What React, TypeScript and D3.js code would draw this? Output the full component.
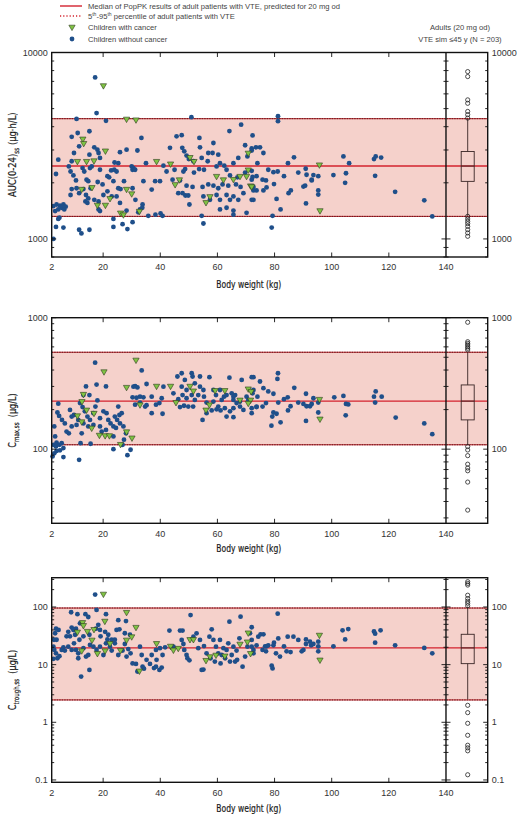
import React from 'react';
import * as d3 from 'd3';

type Pt = [number, number];

// body weight axis (kg); box plot for adults sits right of the 140 kg line
const xTicks = [2, 20, 40, 60, 80, 100, 120, 140];
const xSplit = 140;
const boxKg = 147.6;

// adult reference band: [p5, median, p95]
const aucRef = [1321, 2460, 4416];
const cmaxRef = [108, 232, 546];
const ctroughRef = [2.44, 19.5, 96];

// adult box plot: [low whisker, q1, median, q3, high whisker]
const aucBox = [1330, 2036, 2460, 2944, 4400];
const cmaxBox = [108, 167, 232, 308, 540];
const ctroughBox = [2.5, 10.4, 19.5, 33.6, 102];

const aucOutliers = [7900, 7430, 5570, 5340, 4830, 4640, 4450, 1322, 1280, 1243, 1208, 1168, 1121, 1077, 1033];
const cmaxOutliers = [923, 657, 638, 620, 602, 585, 568, 104.7, 98.6, 89.3, 76.9, 71.9, 68.5, 56.2, 34.4];
const ctroughOutliers = [275, 256, 240, 160, 140, 126, 116, 105, 1.97, 1.47, 0.96, 0.595, 0.4, 0.36, 0.32, 0.123];

// AUC(0-24)ss, children without / with cancer: [kg, value]
const aucNoCancer: Pt[] = [
  [17.2, 7350], [17.7, 4730], [10.7, 4400], [21, 4300], [50.9, 4500], [81.2, 4550], [81.2, 4280],
  [9, 3530], [11.1, 3700], [15.2, 3780], [33.4, 3480], [45.7, 3550], [47.5, 3600], [64.2, 3790], [53.7, 3480], [68.3, 4100],
  [11.6, 3140], [16.9, 3100], [18, 3010], [25.9, 2920], [28.2, 3010], [32, 2980], [43.4, 3080], [47.7, 3080], [48.4, 2950],
  [53.9, 3100], [58.6, 3270], [56.8, 2890], [58.3, 2890], [69.7, 3180], [73.5, 3100], [9.8, 2890], [9, 2610], [8, 2450],
  [16, 2450], [18.4, 2890], [18.9, 2720], [15.2, 2830], [24, 2570], [25.3, 2550], [30, 2450], [30.6, 2400], [35, 2550],
  [41.1, 2470], [49.2, 2800], [50, 2680], [51.6, 2610], [54.5, 2720], [56.6, 2610], [60.3, 2830], [60.9, 2550], [65.6, 2550],
  [67.3, 2720], [70.5, 2770], [4.3, 2660], [8.6, 2300], [9.6, 2190], [3.5, 2230], [12.8, 2400], [13.4, 2300], [15.4, 2400],
  [18.9, 2350], [22.8, 2330], [23.9, 2350], [24.7, 2300], [30.3, 2350], [31.2, 2350], [42.2, 2300], [45, 2350], [48.1, 2300],
  [48.7, 2370], [51.8, 2270], [53.6, 2370], [55.3, 2350], [59.7, 2450], [62.4, 2470], [63.2, 2350], [64.4, 2190], [67, 2140],
  [69.7, 2270], [72.3, 2150], [73.7, 2170], [10.5, 2060], [14.2, 2080], [14.8, 2040], [15.6, 1870], [13.1, 1850], [10.7, 1870],
  [9, 1850], [18.1, 2020], [19.8, 1960], [21.5, 2170], [22.1, 2140], [23.6, 2040], [25.3, 1870], [26.1, 1850], [27.3, 2040],
  [30.3, 1870], [34.1, 2040], [37, 1840], [38.2, 2040], [39.9, 2040], [44.3, 2080], [46.9, 2060], [49.2, 1930], [51.3, 1900],
  [54.8, 1900], [56.8, 1960], [58.6, 1930], [60.3, 1870], [61.8, 1960], [63.8, 1930], [66.5, 1960], [68.1, 1900], [72.6, 1900],
  [8.6, 1720], [11.6, 1760], [14, 1720], [14.8, 1650], [16.9, 1620], [18.4, 1590], [20.1, 1720], [21.5, 1800], [23, 1690],
  [24.7, 1690], [25.9, 1560], [31.3, 1620], [33.8, 1530], [46.3, 1760], [47.8, 1760], [48.8, 1710], [49.8, 1710], [50.2, 1530],
  [55.1, 1690], [57.4, 1620], [59.7, 1720], [60.9, 1620], [63.2, 1720], [64.4, 1620], [65.6, 1690], [67.3, 1620], [69.1, 1760],
  [72.6, 1620], [2.6, 1500], [3.7, 1530], [4.9, 1510], [6.1, 1530], [6.9, 1490], [3.2, 1410], [4.3, 1440], [5.5, 1470],
  [6.4, 1440], [18.4, 1440], [18.9, 1410], [13.8, 1590], [14.5, 1560], [32.9, 1440], [33.7, 1470], [28.2, 1420], [32.3, 1390],
  [35.8, 1330], [38.3, 1350], [40.1, 1370], [40.8, 1330], [54.5, 1330], [60.9, 1440], [63.2, 1470], [65.6, 1420], [65.6, 1350],
  [70.2, 1380], [4.7, 1300], [4.3, 1280], [3.5, 1160], [6.1, 1150], [11.6, 1120], [12.4, 1070], [15.2, 1120], [23.6, 1280],
  [23.6, 1160], [26.8, 1200], [28.5, 1130], [30.3, 1230], [55.1, 1210], [2.6, 1000],
  [72.3, 3590], [72, 3060], [72, 2980], [76.1, 2890], [74.9, 3100], [74, 2550], [72, 2320], [72, 2080], [75.8, 2080],
  [77, 2060], [77.8, 2350], [79.6, 2280], [81.1, 2300], [79.8, 1970], [76.1, 1820], [77.2, 1890], [73.7, 1820], [72.6, 1820],
  [72, 1620], [80.7, 1640], [82.1, 1440], [79.3, 1330], [79, 1150], [83.3, 2170], [84.7, 2550], [84.9, 1760], [85.7, 1820],
  [86.8, 2740], [88.3, 2270], [90.1, 1910], [90.7, 1930], [90.9, 2380], [91.2, 2210], [91, 1550], [93, 2080], [93, 2060],
  [93.6, 2200], [95.3, 2170], [95.3, 1820], [95.3, 1730], [100.6, 2200], [104.1, 2770], [105, 2250], [104.7, 2000],
  [106.1, 2550], [114.8, 2680], [115.4, 2770], [117.3, 2730], [115.2, 2180], [122.2, 1790], [132.4, 1610], [135.2, 1320],
];
const aucCancer: Pt[] = [
  [20.1, 6650], [28.2, 4400], [31.5, 4360], [12.9, 3440], [13.2, 3260], [20.8, 2970], [70.8, 2890], [11, 2610], [14.2, 2610],
  [16.8, 2630], [38.7, 2610], [43.6, 2530], [50.4, 2740], [51.8, 2610], [70.8, 2350], [59.7, 2170], [62.1, 2080], [65.6, 2090],
  [67.9, 2170], [70.2, 2170], [12.5, 1850], [16.1, 1890], [28.2, 1850], [45.2, 1960], [46.7, 2080], [71.6, 1930], [22.4, 1650],
  [30, 1750], [18, 1520], [20.8, 1520], [56, 1570], [57.4, 1690], [26.1, 1380], [32.7, 1410], [27.1, 1350],
  [95.7, 2500], [72, 1910], [95.9, 1420],
];

// Cmax,ss
const cmaxNoCancer: Pt[] = [
  [17.2, 455], [17.7, 310], [21, 300], [33.5, 397], [14, 300], [13.1, 258], [15.2, 258], [8.4, 199], [9, 177], [9.8, 182],
  [11.9, 224], [12.8, 209], [11.3, 167], [10.7, 153], [9, 149], [8, 132], [7.2, 136], [6.6, 157], [5.6, 167], [4, 190],
  [4.3, 222], [4.6, 179], [2.9, 149], [3.2, 125], [3.7, 112], [2.6, 108], [3.5, 105], [4.7, 108], [5.5, 111], [6.1, 102],
  [4.9, 98], [2.9, 93], [6.1, 87], [11.6, 83], [2.3, 88], [3.7, 97], [13.6, 194], [14.5, 177], [15.4, 167], [16.6, 188],
  [17.3, 211], [18, 235], [18.9, 172], [20.1, 194], [21.2, 188], [16.6, 153], [14.8, 149], [13.1, 157], [12.5, 132], [12.1, 111],
  [15.6, 110], [18.9, 149], [19.5, 136], [21, 140], [21.8, 167], [22.6, 157], [24.1, 177], [24.9, 167], [25.7, 182], [23.6, 149],
  [24.5, 145], [25.9, 157], [27.1, 149], [23.6, 125], [23.6, 100], [26.8, 108], [27.3, 118], [28.5, 90], [29.6, 99], [28, 132],
  [26.5, 188], [25.3, 211], [30.6, 299], [31.2, 302], [32, 295], [30.3, 248], [31.7, 246], [32.9, 251], [34.1, 248], [34.7, 211],
  [35.2, 216], [31.2, 218], [32.9, 226], [35.2, 313], [37, 251], [38.5, 218], [39.7, 224], [40.5, 244], [40.8, 186], [37, 188],
  [41.1, 299], [44.6, 266], [46, 357], [47.5, 378], [48.6, 336], [49.2, 282], [51.3, 357], [51, 378], [52.1, 317], [53.9, 357],
  [53.9, 299], [47.5, 299], [47.8, 258], [49.2, 244], [51, 258], [52.1, 237], [46.3, 240], [46.9, 209], [48.3, 214], [49.8, 211],
  [51.5, 211], [53.3, 258], [55.1, 282], [55.3, 251], [56.2, 226], [57.2, 353], [58.6, 282], [59.5, 258], [60.9, 282], [61.5, 237],
  [62.3, 251], [63.2, 258], [64.2, 350], [65, 266], [65.6, 237], [66.2, 258], [67.9, 230], [68.5, 336], [70.2, 251], [72.6, 353],
  [60.3, 211], [61.1, 197], [62.6, 205], [64.4, 194], [65.6, 205], [66.7, 224], [69.1, 199], [70.8, 237], [54.8, 167], [58, 197],
  [56.2, 188], [59.7, 201], [63.2, 177], [65.6, 175], [67.9, 211], [73.7, 211], [72.6, 282], [58.6, 230], [65.6, 251],
  [72, 353], [72.3, 266], [72, 205], [72, 188], [73.7, 209], [74, 251], [74.9, 327], [76.1, 291], [75.8, 211], [77, 224],
  [77.8, 275], [79.6, 264], [81.2, 378], [81, 342], [81.3, 226], [79.2, 177], [79.6, 190], [78.9, 151], [80.7, 186], [82.1, 160],
  [83.3, 240], [84.6, 248], [84.7, 197], [85.6, 212], [86.9, 293], [88.3, 226], [90.1, 221], [91, 264], [91.2, 212], [91, 164],
  [92.4, 212], [93, 221], [93.6, 244], [95.3, 226], [95.3, 190], [100.9, 248], [104.1, 254], [105, 221], [105.8, 219],
  [104.9, 181], [115.4, 275], [115.2, 226], [114.8, 251], [117.5, 251], [122.4, 174], [132.4, 157], [135.2, 130],
];
const cmaxCancer: Pt[] = [
  [31.5, 477], [20.3, 389], [13.1, 262], [12.6, 231], [14.2, 199], [16.8, 188], [11, 180], [12.5, 162], [16, 145], [18.7, 128],
  [20.7, 127], [22.2, 127], [26.1, 109], [28.2, 136], [30.1, 122], [28.2, 296], [32.9, 218], [38.7, 302], [43.6, 302],
  [45.5, 227], [50.4, 302], [51.6, 278], [56, 199], [57.2, 218], [59.2, 280], [62.6, 280], [67.9, 237], [70.8, 288],
  [71.6, 237], [70.8, 224], [95.7, 240], [95.9, 170], [71.8, 275],
];

// Ctrough,ss
const ctroughNoCancer: Pt[] = [
  [17.2, 164], [17.7, 89], [8.8, 81], [11, 75], [13.8, 75], [21, 75], [28, 57], [14.8, 67], [11.9, 52], [10.5, 42], [9, 44],
  [7.8, 37], [7.2, 31], [8.4, 31], [9.6, 40], [10.2, 33], [11.7, 27], [13.1, 31], [15.2, 33], [17.5, 42], [18.3, 49], [18.9, 40],
  [19.1, 31], [20.7, 37], [21.8, 33], [23, 27], [24.1, 27], [24.7, 40], [25.7, 41], [25.3, 59], [27.6, 35], [29.4, 33],
  [3.5, 42], [4.4, 40], [3.2, 35], [2.8, 27], [3.7, 27], [2.6, 20.5], [2.9, 18], [3.5, 15.7], [4, 12.9], [2.6, 12.6], [4.7, 14],
  [5.5, 18], [6.1, 20], [6.6, 17.5], [7.8, 20.5], [9, 18], [9.8, 23.4], [10.5, 18], [11.3, 12.9], [11.3, 15.7], [12.3, 6.2],
  [13.1, 19.3], [14, 13.8], [14.8, 14.7], [15.2, 8.1], [15.4, 22], [16.6, 20.5], [17.7, 18], [18.9, 20.5], [20.1, 14.7],
  [21, 23.4], [21.5, 27.4], [22.4, 20.5], [23, 17.5], [24.1, 23.4], [25.3, 14.7], [26.8, 17.5], [27.6, 22.8], [28.2, 13.8],
  [28.8, 18.6], [29.6, 15.7], [30.3, 10.5], [31.5, 10.3], [32, 7.6], [32.9, 20.5], [33.5, 14.7], [33.8, 9.2], [34.3, 8.5],
  [35.2, 12.1], [36.4, 10.3], [37.8, 8.7], [38.5, 9.2], [39.7, 8.1], [40.5, 8.9], [40.8, 14.7], [38.7, 12.1], [37, 14.7],
  [38.5, 18], [39.9, 19.3], [41.7, 20], [43.2, 39], [44.6, 20.5], [46.9, 39], [47.8, 39], [47.5, 26.8], [48.1, 22.8], [48.4, 18],
  [49.2, 14.7], [49.5, 12.9], [50.2, 11.9], [50.6, 72.5], [51.6, 30.6], [52.7, 34.9], [53.3, 19.3], [53.9, 26.8], [54.5, 8.1],
  [55.1, 8.2], [55.3, 21], [56.2, 15.7], [57.2, 30.6], [58, 41], [58.6, 26.8], [59.5, 20.5], [60.3, 15.7], [60.9, 26.8],
  [61.5, 14.7], [62.1, 19.3], [62.7, 12.9], [63.2, 18], [63.8, 23.4], [64.2, 55.5], [65, 14.7], [65.6, 20.5], [66.2, 11.3],
  [66.7, 17.5], [67.7, 28.6], [68.1, 68], [68.8, 9.2], [69.7, 13.8], [70.5, 20.5], [71.4, 34.9], [72, 44.5], [72.6, 18],
  [57.6, 12.9], [59.1, 11.3], [61.1, 10.5], [64.4, 11.3], [66.9, 12.1],
  [72, 26.8], [72, 20.5], [72.6, 15.7], [73.7, 21.6], [74.3, 30.6], [75.1, 33.6], [76.1, 33.6], [75.8, 18], [76.7, 20.8],
  [77.2, 20.8], [77.8, 21.6], [77, 17], [79, 9.6], [79.3, 8.6], [79.6, 21.6], [79.8, 24], [80.5, 15.7], [81.1, 76.5],
  [81.3, 28.5], [81.9, 13.8], [83.3, 20.8], [84.2, 17], [84.6, 30.6], [85.6, 16.5], [86.6, 30.6], [88.3, 26.8], [89.5, 17],
  [90.1, 18], [91, 22.8], [91, 27.4], [92.4, 25], [92.8, 21.6], [93.6, 22.8], [95.3, 20.8], [95.3, 25], [95.3, 17],
  [100.6, 20.8], [103.8, 39.3], [105.8, 41.4], [104.7, 27.4], [114.8, 37.7], [115.2, 34.4], [117.1, 39.3], [115.2, 24],
  [122.2, 21.6], [132.4, 19.5], [135.2, 15.7],
];
const ctroughCancer: Pt[] = [
  [20.1, 168], [28.2, 81], [12.8, 54], [13.1, 48], [11, 37], [14.5, 38], [16.8, 41], [20.6, 57], [31.5, 44.6], [30, 30.6],
  [28.2, 26.8], [16.1, 26.8], [22.4, 23.4], [38.7, 23.4], [43.6, 21], [44.6, 18], [46.3, 19.3], [50.4, 27.4], [51.6, 27.4],
  [12.5, 17.5], [18, 15.7], [20.7, 17.5], [26.1, 17.8], [32.7, 7.8], [56, 11.9], [57.4, 13.8], [59.5, 14.7], [62.6, 14.2],
  [67.9, 22.8], [70.5, 24.9], [70.8, 35.7], [71.6, 15.7], [95.7, 32.6], [95.9, 12.1],
];

const W = 520;
const H = 816;
const left = 51.7;
const right = 487.7;

const x = d3.scaleLinear().domain([2, 154.6]).range([left, right]);

const tickFont = "'Liberation Sans', Arial, Helvetica, sans-serif";
const titleFont = "'Liberation Sans Narrow', 'DejaVu Sans Condensed', 'Liberation Sans', sans-serif";
const textColor = '#333';
const bandFill = '#f5d1cb';
const redLine = '#d3222e';
const edgeColor = '#5a1c1c';
const dotColor = '#1f4f8a';
const triFill = '#80c344';
const triStroke = '#2c3a1c';
const triPath = d3.symbol(d3.symbolTriangle, 17)() as string;

interface PanelProps {
  top: number;
  bottom: number;
  domain: [number, number];
  refBand: number[];
  box: number[];
  outliers: number[];
  noCancer: Pt[];
  cancer: Pt[];
  titleY: number;
  yTitle: React.ReactNode;
  yTitleScale: number;
}

function logTicks(domain: [number, number]) {
  const out: { v: number; major: boolean }[] = [];
  const d0 = Math.floor(Math.log10(domain[0]));
  const d1 = Math.ceil(Math.log10(domain[1]));
  for (let d = d0; d <= d1; d++) {
    for (let m = 1; m <= 9; m++) {
      const v = +(m * Math.pow(10, d)).toPrecision(6);
      if (v >= domain[0] * 0.999 && v <= domain[1] * 1.001) out.push({ v, major: m === 1 });
    }
  }
  return out;
}

const Panel: React.FC<PanelProps> = ({
  top, bottom, domain, refBand, box, outliers, noCancer, cancer, titleY, yTitle, yTitleScale,
}) => {
  const y = d3.scaleLog().domain(domain).range([bottom, top]);
  const ticks = logTicks(domain);
  const xs = x(xSplit);
  const bx = x(boxKg);
  const bw = 6.5;

  return (
    <g>
      {/* reference band */}
      <rect x={left} y={y(refBand[2])} width={right - left} height={y(refBand[0]) - y(refBand[2])} fill={bandFill} />
      <line x1={left} x2={right} y1={y(refBand[1])} y2={y(refBand[1])} stroke={redLine} strokeWidth={1.4} />
      {[refBand[0], refBand[2]].map((v, i) => (
        <g key={i}>
          <line x1={left} x2={right} y1={y(v)} y2={y(v)} stroke={redLine} strokeWidth={1} />
          <line x1={left} x2={right} y1={y(v)} y2={y(v)} stroke={edgeColor} strokeWidth={1} strokeDasharray="1.5 1" />
        </g>
      ))}

      {/* children */}
      {noCancer.map((d, i) => (
        <circle key={'n' + i} cx={x(d[0])} cy={y(d[1])} r={2.4} fill={dotColor} />
      ))}
      {cancer.map((d, i) => (
        <path
          key={'c' + i}
          d={triPath}
          transform={`translate(${x(d[0])},${y(d[1])}) rotate(180)`}
          fill={triFill}
          stroke={triStroke}
          strokeWidth={0.6}
        />
      ))}

      {/* adult box plot */}
      <g stroke="#3a2626" strokeWidth={0.9} fill="none">
        <line x1={bx} x2={bx} y1={y(box[3])} y2={y(box[4])} />
        <line x1={bx} x2={bx} y1={y(box[0])} y2={y(box[1])} />
        <rect x={bx - bw} y={y(box[3])} width={bw * 2} height={y(box[1]) - y(box[3])} />
        <line x1={bx - bw} x2={bx + bw} y1={y(box[2])} y2={y(box[2])} />
      </g>
      {outliers.map((v, i) => (
        <circle key={'o' + i} cx={bx} cy={y(v)} r={2.1} fill="none" stroke="#222" strokeWidth={0.8} />
      ))}

      {/* frame */}
      <rect x={left} y={top} width={right - left} height={bottom - top} fill="none" stroke="#111" strokeWidth={1.4} />
      <line x1={xs} x2={xs} y1={top} y2={bottom} stroke="#111" strokeWidth={1.4} />

      {/* y ticks */}
      {ticks.map((t, i) => {
        const len = t.major ? 4.5 : 2.5;
        const yy = y(t.v);
        return (
          <g key={'t' + i} stroke="#111" strokeWidth={0.9}>
            <line x1={left} x2={left + len} y1={yy} y2={yy} />
            <line x1={right} x2={right - len} y1={yy} y2={yy} />
            <line x1={xs - len} x2={xs + len} y1={yy} y2={yy} />
          </g>
        );
      })}
      {ticks
        .filter(t => t.major)
        .map((t, i) => (
          <g key={'l' + i} fontFamily={tickFont} fontSize={9} fill={textColor}>
            <text x={left - 4} y={y(t.v) + 3.2} textAnchor="end">
              {String(t.v)}
            </text>
            <text x={right + 4} y={y(t.v) + 3.2} textAnchor="start">
              {String(t.v)}
            </text>
          </g>
        ))}

      {/* x ticks */}
      {xTicks
        .filter(t => t > 2 && t < xSplit)
        .map(t => (
          <g key={'x' + t} stroke="#111" strokeWidth={0.9}>
            <line x1={x(t)} x2={x(t)} y1={bottom} y2={bottom - 4.5} />
            <line x1={x(t)} x2={x(t)} y1={top} y2={top + 4.5} />
          </g>
        ))}
      {xTicks.map(t => (
        <text key={'xl' + t} x={x(t)} y={bottom + 13.3} textAnchor="middle" fontFamily={tickFont} fontSize={9} fill={textColor}>
          {t}
        </text>
      ))}
      <text
        x={(left + xs) / 2}
        y={titleY}
        textAnchor="middle"
        fontFamily={titleFont}
        fontSize={11}
        fill="#1a1a1a"
        stroke="#1a1a1a"
        strokeWidth={0.2}
        textLength={65}
        lengthAdjust="spacingAndGlyphs"
      >
        Body weight (kg)
      </text>
      <text
        transform={`translate(16,${(top + bottom) / 2}) rotate(-90) scale(${yTitleScale},1)`}
        textAnchor="middle"
        fontFamily={titleFont}
        fontSize={11}
        fill="#1a1a1a"
        stroke="#1a1a1a"
        strokeWidth={0.2}
      >
        {yTitle}
      </text>
    </g>
  );
};

const Sub: React.FC<{ children: React.ReactNode }> = ({ children }) => (
  <>
    <tspan dy={2.5} fontSize={7.5}>
      {children}
    </tspan>
    <tspan dy={-2.5}>{'\u00a0'}</tspan>
  </>
);

const Legend: React.FC = () => {
  const lx = 60;
  const tx = 88;
  return (
    <g fontFamily={tickFont} fontSize={7.6} fill="#444">
      <line x1={lx} x2={82} y1={6} y2={6} stroke={redLine} strokeWidth={1.4} />
      <text x={tx} y={8.7}>Median of PopPK results of adult patients with VTE, predicted for 20 mg od</text>
      <line x1={lx} x2={82} y1={16} y2={16} stroke={redLine} strokeWidth={1.3} strokeDasharray="1.2 2" />
      <text x={tx} y={18.7}>
        5<tspan dy={-2.5} fontSize={5}>th</tspan>
        <tspan dy={2.5}>-95</tspan>
        <tspan dy={-2.5} fontSize={5}>th</tspan>
        <tspan dy={2.5}> percentile of adult patients with VTE</tspan>
      </text>
      <path d={triPath} transform="translate(72,27) rotate(180)" fill={triFill} stroke={triStroke} strokeWidth={0.6} />
      <text x={tx} y={30}>Children with cancer</text>
      <circle cx={72} cy={39} r={2.4} fill={dotColor} />
      <text x={tx} y={41.7}>Children without cancer</text>
      <text x={460} y={30} textAnchor="middle">Adults (20 mg od)</text>
      <text x={460} y={41.7} textAnchor="middle">VTE sim ≤45 y (N = 203)</text>
    </g>
  );
};

export default function App() {
  return (
    <div style={{ position: 'absolute', left: 0, top: 0, background: '#fff' }}>
      <svg width={W} height={H} viewBox={`0 0 ${W} ${H}`}>
        <rect width={W} height={H} fill="#fff" />
        <Legend />
        <Panel
          top={52.5}
          bottom={257}
          domain={[800, 10000]}
          refBand={aucRef}
          box={aucBox}
          outliers={aucOutliers}
          noCancer={aucNoCancer}
          cancer={aucCancer}
          titleY={287.5}
          yTitleScale={0.85}
          yTitle={
            <>
              AUC(0-24)<Sub>ss</Sub>(µg·h/L)
            </>
          }
        />
        <Panel
          top={317.7}
          bottom={523.3}
          domain={[27.3, 1000]}
          refBand={cmaxRef}
          box={cmaxBox}
          outliers={cmaxOutliers}
          noCancer={cmaxNoCancer}
          cancer={cmaxCancer}
          titleY={551.5}
          yTitleScale={0.82}
          yTitle={
            <>
              C<Sub>max,ss</Sub>{'\u00a0'}(µg/L)
            </>
          }
        />
        <Panel
          top={577.7}
          bottom={782.3}
          domain={[0.091, 322]}
          refBand={ctroughRef}
          box={ctroughBox}
          outliers={ctroughOutliers}
          noCancer={ctroughNoCancer}
          cancer={ctroughCancer}
          titleY={811.5}
          yTitleScale={0.82}
          yTitle={
            <>
              C<Sub>trough,ss</Sub>{'\u00a0'}(µg/L)
            </>
          }
        />
      </svg>
    </div>
  );
}
